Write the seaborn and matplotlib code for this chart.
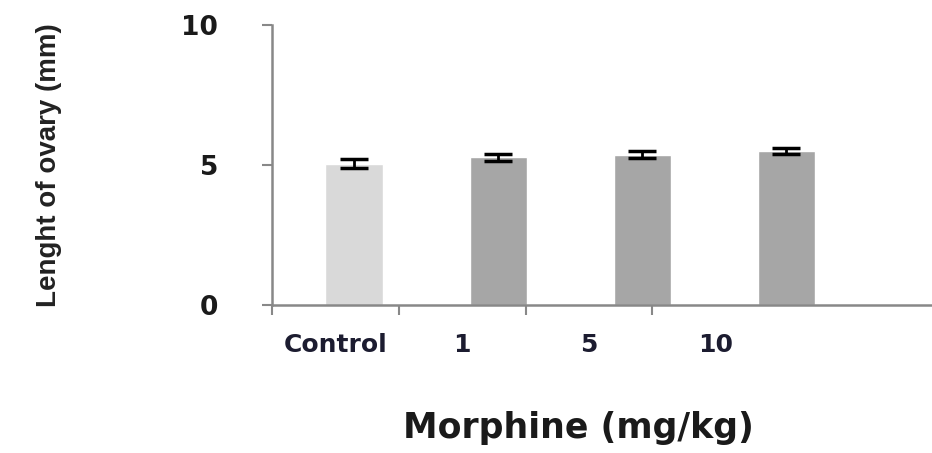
import numpy as np
import matplotlib
matplotlib.use("Agg")
import matplotlib.pyplot as plt
import seaborn as sns

# data
groups = ["Control", "1", "5", "10"]
ovary_length = [5.04, 5.27, 5.37, 5.50]
sem = [0.16, 0.12, 0.11, 0.10]
bar_colors = ["#d9d9d9", "#a6a6a6", "#a6a6a6", "#a6a6a6"]

sns.set_style("ticks")
plt.rcParams["font.family"] = ["DejaVu Sans"]

fig = plt.figure(figsize=(9.32, 4.53), dpi=100)
ax = fig.add_axes([0.292, 0.327, 0.708, 0.618])

sns.barplot(x=groups, y=ovary_length, hue=groups, palette=bar_colors,
            width=0.4, legend=False, ax=ax, saturation=1)
ax.errorbar(np.arange(len(groups)), ovary_length, yerr=sem, fmt="none",
            ecolor="black", elinewidth=2, capsize=10, capthick=2.5, zorder=5)

ax.set_ylim(0, 10)
ax.set_xlim(-0.57, 4.01)
ax.set_yticks([0, 5, 10])
ax.set_yticklabels(["0", "5", "10"], fontsize=19, fontweight="bold", color="#1a1a1a")

# category labels in the source sit on a narrower grid than the bars
step = 0.88
ax.set_xticks(np.arange(len(groups)) * step - 0.13)
ax.set_xticklabels(groups, fontsize=18, fontweight="bold", color="#1c1c30")
ax.set_xticks(np.arange(len(groups)) * step - 0.57, minor=True)
ax.tick_params(axis="x", which="major", length=0, pad=20)
ax.tick_params(axis="x", which="minor", length=7, width=1.5, color="#888888")
ax.tick_params(axis="y", length=7, width=1.5, color="#888888", pad=32)

sns.despine(ax=ax)
for side in ["left", "bottom"]:
    ax.spines[side].set_color("#888888")
    ax.spines[side].set_linewidth(1.8)

ax.set_xlabel("Morphine (mg/kg)", fontsize=25, fontweight="bold", color="#1a1a1a")
ax.xaxis.set_label_coords(0.464, -0.38)
ax.set_ylabel("Lenght of ovary (mm)", fontsize=20, fontweight="bold", color="#222222",
              family=["Liberation Sans", "DejaVu Sans"])
ax.yaxis.set_label_coords(-0.318, 0.5)

fig.savefig("out.png", dpi=100)
